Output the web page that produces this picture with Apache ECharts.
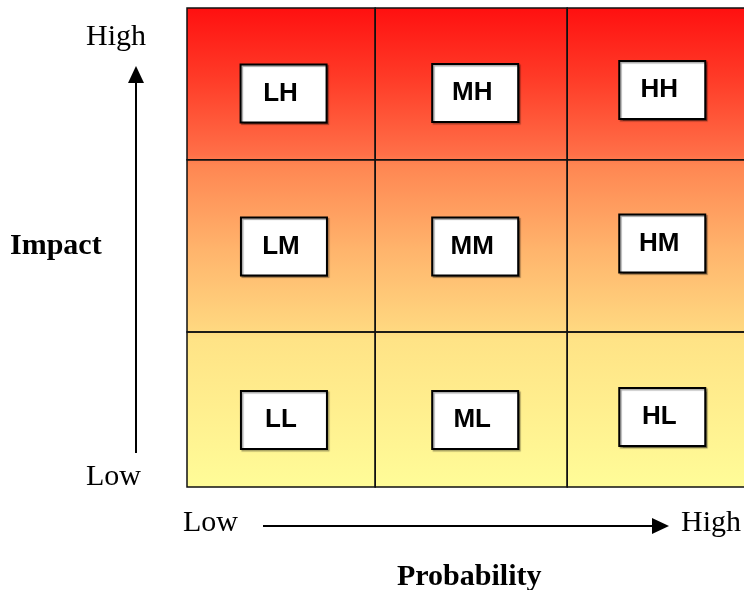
<!DOCTYPE html>
<html>
<head>
<meta charset="utf-8">
<script src="https://cdn.jsdelivr.net/npm/echarts@6/dist/echarts.min.js"></script>
<style>
html,body{margin:0;padding:0;background:#fff;}
#chart{width:744px;height:590px;}
</style>
</head>
<body>
<div id="chart"></div>
<script>
// ---- data ----
const probabilityLevels = ['L', 'M', 'H'];
const impactLevels = ['L', 'M', 'H'];
// cell boundaries along each axis (axis units); the last column runs past the picture's edge
const probabilityEdges = [0, 0.99, 2.0, 3.0];
const impactEdges = [0, 0.97, 2.05, 3.0];
const probabilityVisibleMax = 2.93;
// label boxes: [label, probability, impact]
const cellLabels = [
  ['LL', 0.51, 0.42], ['ML', 1.516, 0.42], ['HL', 2.5, 0.438],
  ['LM', 0.51, 1.506], ['MM', 1.516, 1.506], ['HM', 2.5, 1.525],
  ['LH', 0.508, 2.464], ['MH', 1.516, 2.468], ['HH', 2.5, 2.486]
];
const axisTickLabels = { low: 'Low', high: 'High' };
const axisTitles = { x: 'Probability', y: 'Impact' };

// ---- build ----
const cells = [];
for (let i = 0; i < probabilityLevels.length; i++) {
  for (let j = 0; j < impactLevels.length; j++) {
    cells.push([probabilityEdges[i], impactEdges[j], probabilityEdges[i + 1], impactEdges[j + 1]]);
  }
}
const boxes = cellLabels.map(d => [d[1], d[2], d[0]]);

const chart = echarts.init(document.getElementById('chart'), null, { renderer: 'canvas' });
const serif = '"Liberation Serif", "Times New Roman", serif';
const sans = '"Liberation Sans", Arial, sans-serif';

const option = {
  animation: false,
  grid: {
    left: 187, right: 0, top: 8, bottom: 103,
    show: true, borderWidth: 0,
    backgroundColor: new echarts.graphic.LinearGradient(0, 0, 0, 1, [
      { offset: 0, color: '#FF1010' },
      { offset: 0.15, color: '#FF3C28' },
      { offset: 0.307, color: '#FF7048' },
      { offset: 0.328, color: '#FF8652' },
      { offset: 0.505, color: '#FFB46C' },
      { offset: 0.672, color: '#FFD880' },
      { offset: 0.693, color: '#FFE386' },
      { offset: 1, color: '#FFFC98' }
    ])
  },
  xAxis: { type: 'value', min: 0, max: probabilityVisibleMax, show: false },
  yAxis: { type: 'value', min: 0, max: 3, show: false },
  series: [
    {
      type: 'custom',
      clip: false,
      data: cells,
      renderItem: function (params, api) {
        const p0 = api.coord([api.value(0), api.value(1)]);
        const p1 = api.coord([api.value(2), api.value(3)]);
        return {
          type: 'rect',
          shape: { x: p0[0], y: p1[1], width: p1[0] - p0[0], height: p0[1] - p1[1] },
          style: { fill: null, stroke: '#111', lineWidth: 1.5 }
        };
      }
    },
    {
      type: 'custom',
      clip: false,
      data: boxes,
      renderItem: function (params, api) {
        const c = api.coord([api.value(0), api.value(1)]);
        const w = 86, h = 58;
        return {
          type: 'group',
          children: [
            {
              type: 'rect',
              shape: { x: c[0] - w / 2, y: c[1] - h / 2, width: w, height: h },
              style: {
                fill: '#fff', stroke: '#000', lineWidth: 2,
                shadowColor: 'rgba(0,0,0,0.35)', shadowOffsetX: 1.5, shadowOffsetY: 1.5, shadowBlur: 1
              }
            },
            {
              type: 'text',
              style: {
                x: c[0] - 3, y: c[1],
                text: api.value(2),
                fill: '#000',
                font: 'bold 26px ' + sans,
                align: 'center', verticalAlign: 'middle'
              }
            }
          ]
        };
      }
    }
  ],
  graphic: [
    { type: 'text', left: 86, top: 22, style: { text: axisTickLabels.high, font: '30px ' + serif, fill: '#000' } },
    { type: 'text', left: 86, top: 462, style: { text: axisTickLabels.low, font: '30px ' + serif, fill: '#000' } },
    { type: 'text', left: 10, top: 231, style: { text: axisTitles.y, font: 'bold 30px ' + serif, fill: '#000' } },
    { type: 'line', shape: { x1: 136, y1: 453, x2: 136, y2: 80 }, style: { stroke: '#000', lineWidth: 2 } },
    { type: 'polygon', shape: { points: [[136, 66], [128, 83], [144, 83]] }, style: { fill: '#000' } },
    { type: 'text', left: 183, top: 508, style: { text: axisTickLabels.low, font: '30px ' + serif, fill: '#000' } },
    { type: 'text', left: 681, top: 508, style: { text: axisTickLabels.high, font: '30px ' + serif, fill: '#000' } },
    { type: 'line', shape: { x1: 263, y1: 526, x2: 655, y2: 526 }, style: { stroke: '#000', lineWidth: 2 } },
    { type: 'polygon', shape: { points: [[669, 526], [652, 518], [652, 534]] }, style: { fill: '#000' } },
    { type: 'text', left: 397, top: 562, style: { text: axisTitles.x, font: 'bold 30px ' + serif, fill: '#000' } }
  ]
};
chart.setOption(option);
</script>
</body>
</html>
